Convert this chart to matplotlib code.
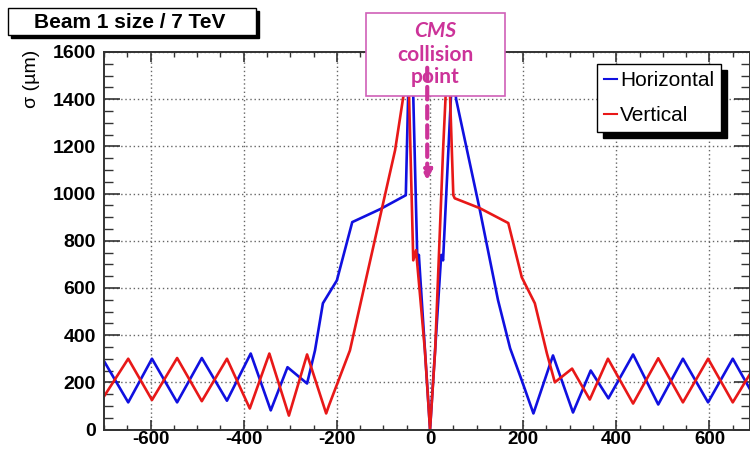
import numpy as np
import matplotlib
matplotlib.use("Agg")
import matplotlib.pyplot as plt
from matplotlib.patches import Rectangle
from matplotlib.ticker import MultipleLocator

plt.rcParams['font.family'] = ['Liberation Sans', 'DejaVu Sans']
plt.rcParams['axes.unicode_minus'] = False

# beam 1 size along the ring around CMS (s in m, sigma in um)
h_s = [-700, -648, -597, -543, -490, -436, -385, -342, -306, -264, -247, -230,
       -200, -167, -107, -52, -47, -42, -36, -27, -24, 0,
       24, 28, 45, 50, 56, 107, 146, 172, 197, 222, 264, 307, 345, 383,
       436, 490, 543, 597, 650, 690]
h_sigma = [290, 115, 300, 115, 303, 122, 322, 81, 264, 195, 335, 535,
           632, 879, 934, 993, 1413, 1520, 1413, 700, 740, 0,
           740, 717, 1413, 1520, 1400, 930, 548, 344, 208, 68, 314, 72, 250, 132,
           318, 106, 300, 115, 300, 160]

v_s = [-700, -648, -597, -543, -490, -436, -387, -345, -303, -264, -223, -217,
       -172, -75, -52, -45, -36, -30, -11, 0, 11, 28, 36, 43, 50, 53,
       107, 168, 197, 225, 251, 268, 305, 343, 382, 436, 490, 543, 597, 650, 690]
v_sigma = [140, 300, 125, 303, 120, 300, 89, 322, 59, 318, 68, 102,
           335, 1184, 1480, 1413, 717, 760, 335, 0, 335, 1184, 1520, 1413, 993, 980,
           938, 875, 645, 535, 322, 200, 258, 127, 300, 110, 302, 115, 300, 115, 245]

fig = plt.figure(figsize=(7.5, 4.5), dpi=100)
ax = fig.add_axes([104/750, 20.5/450, 646/750, 377.5/450])

ax.plot(h_s, h_sigma, color='#1010e0', lw=1.9, label='Horizontal')
ax.plot(v_s, v_sigma, color='#e81818', lw=1.9, label='Vertical')

ax.set_xlim(-700, 687)
ax.set_ylim(0, 1600)
ax.xaxis.set_major_locator(MultipleLocator(200))
ax.xaxis.set_minor_locator(MultipleLocator(50))
ax.yaxis.set_major_locator(MultipleLocator(200))
ax.yaxis.set_minor_locator(MultipleLocator(50))
ax.grid(True, which='major', color='#666666', linestyle=(0, (1, 2)), lw=1)
ax.tick_params(axis='both', which='both', direction='in', top=True, right=True,
               colors='#333333', labelcolor='black', labelsize=14)
ax.tick_params(axis='x', which='major', length=7, width=1.2, pad=1, labelsize=13.5)
ax.tick_params(axis='x', which='minor', length=3.6, width=1)
ax.tick_params(axis='y', which='major', length=11.5, width=1.2, pad=6)
ax.tick_params(axis='y', which='minor', length=6.5, width=1)
for lab in ax.get_xticklabels() + ax.get_yticklabels():
    lab.set_fontweight('bold')
for sp in ax.spines.values():
    sp.set_color('#333333')
    sp.set_linewidth(1.4)

fig.text(32/750, 1 - 50/450, 'σ (µm)', rotation=90, ha='center', va='top',
         fontsize=14)

# title box with shadow
fig.add_artist(Rectangle((11/750, 1 - 38/450), 248/750, 27/450,
                         transform=fig.transFigure, facecolor='black', edgecolor='black'))
fig.add_artist(Rectangle((8/750, 1 - 35/450), 248/750, 27/450,
                         transform=fig.transFigure, facecolor='white', edgecolor='black', lw=1))
fig.text(130/750, 1 - 23/450, 'Beam 1 size / 7 TeV', ha='center', va='center',
         fontsize=15, fontweight='bold')

leg = ax.legend(loc='upper left', bbox_to_anchor=(597/750, 1 - 64/450),
                bbox_transform=fig.transFigure, borderaxespad=0, fancybox=False,
                shadow={'color': 'black', 'alpha': 1, 'ox': 4, 'oy': -4},
                edgecolor='black', framealpha=1, fontsize=15, handlelength=0.6,
                handletextpad=0.15, borderpad=0.35, labelspacing=0.75)
leg.get_frame().set_linewidth(1)
for ln in leg.get_lines():
    ln.set_linewidth(1.5)

# CMS collision point box and arrow
ax.add_artist(Rectangle((366/750, 1 - 96/450), 139/750, 83/450,
                        transform=fig.transFigure, facecolor='white',
                        edgecolor='#d060b8', lw=1.2, clip_on=False, zorder=6))
ax.annotate('', xy=(-6, 1044), xytext=(-6, 1545),
            arrowprops=dict(arrowstyle='-|>', color='#cc3399', lw=3,
                            linestyle=(0, (3, 1.6)), mutation_scale=14),
            annotation_clip=False, zorder=7)
for txt, yp, sty in [('CMS', 31, 'italic'), ('collision', 55, 'normal'), ('point', 77, 'normal')]:
    fig.text(435/750, 1 - yp/450, txt, ha='center', va='center', fontsize=15,
             fontweight='bold', style=sty, color='#cc3399',
             family=['Lato', 'DejaVu Sans'], zorder=8)

fig.savefig('out.png', dpi=100)
